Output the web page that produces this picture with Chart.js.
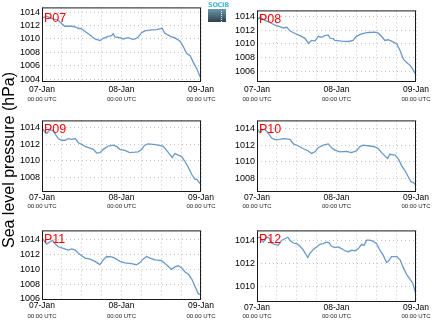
<!DOCTYPE html>
<html>
<head>
<meta charset="utf-8">
<script src="https://cdn.jsdelivr.net/npm/chart.js@4/dist/chart.umd.min.js"></script>
<style>
  body { margin: 0; background: #fff; width: 435px; height: 327px; position: relative; overflow: hidden;
         font-family: Arial, "Liberation Sans", Helvetica, sans-serif; }
  canvas { position: absolute; }
  #logo { position: absolute; left: 208px; top: 2px; width: 18px; z-index: 2; }
  #logo .txt { font: bold 6.5px "DejaVu Sans", sans-serif; color: #45b9cf; letter-spacing: -0.3px; line-height: 6px; }
  #logo .box { height: 13px; margin-top: 0.5px; background: linear-gradient(#6b9aa8, #2f3f4f); position: relative; }
  #logo .box:after { content: ""; position: absolute; left: 13px; top: 2px; height: 11px;
                     border-left: 1px dotted #e8f0f4; }
</style>
</head>
<body>
<div id="logo"><div class="txt">SOCIB</div><div class="box"></div></div>
<script>
// hours since 07-Jan 00:00 UTC, pressure in hPa
const p07 = [[0,1013.1],[1.4,1013.4],[3.4,1013.0],[4.9,1012.8],[5.9,1012.3],[6.9,1011.9],[9,1011.9],[10,1011.8],
  [11,1011.6],[12,1011.5],[13,1011.1],[14.5,1010.6],[16,1010.0],[17.5,1009.75],[18.5,1010.1],[20,1010.4],
  [21,1010.5],[21.5,1010.8],[22,1010.3],[23.5,1010.2],[24.5,1010.0],[26,1010.2],[27.6,1009.9],[29,1010.25],
  [30,1010.9],[31,1011.2],[33,1011.35],[34.6,1011.4],[36.3,1011.6],[37,1010.9],[38,1010.6],[39.1,1010.3],
  [40,1010.2],[41.7,1009.65],[42.6,1008.9],[43.7,1007.8],[44.7,1007.5],[45.7,1006.5],[46.7,1005.55],
  [47.7,1004.4],[48,1004.1]];
const p08 = [[0,1013.4],[0.9,1013.86],[2.4,1013.4],[3.9,1013.1],[5.4,1012.7],[6.9,1012.5],[7.9,1012.3],
  [9,1012.4],[10,1011.85],[11.5,1011.5],[13,1011.2],[14.5,1010.8],[15.5,1010.1],[16.5,1010.5],[17.5,1010.4],
  [18.5,1011.1],[19.5,1010.95],[20.5,1011.2],[21.5,1011.3],[22,1010.85],[23,1010.75],[23.5,1010.5],
  [25.5,1010.4],[27.6,1010.35],[29,1010.5],[30,1011.1],[31.6,1011.45],[33.6,1011.65],[35.6,1011.7],
  [36.6,1011.55],[37.6,1011.1],[38.6,1010.5],[39.6,1010.6],[40.6,1010.4],[42.2,1010.0],[43.2,1009.0],
  [44.2,1007.8],[45.2,1007.3],[46.2,1006.9],[47.2,1006.2],[48,1005.5]];
const p09 = [[0,1014.0],[0.9,1013.5],[1.4,1013.3],[2.4,1013.77],[3.2,1013.7],[3.9,1013.3],[4.9,1012.7],
  [5.9,1012.5],[6.9,1012.5],[7.9,1012.7],[9,1012.6],[10,1012.7],[11,1012.2],[12,1012.0],[13,1011.75],
  [14.5,1011.55],[15.5,1011.4],[16.5,1010.95],[17.5,1011.0],[18.5,1011.4],[20,1011.8],[21.5,1011.9],
  [22.5,1011.75],[23.5,1011.4],[25,1011.27],[26.5,1011.0],[28,1011.05],[29,1011.1],[30,1011.35],[31,1011.9],
  [32,1012.05],[33.6,1012.0],[35.1,1011.9],[36.6,1011.75],[37.6,1011.27],[38.6,1010.8],[39.3,1010.4],
  [40.1,1010.9],[41.1,1010.7],[42.2,1010.5],[43.2,1009.9],[44.2,1009.2],[45.2,1008.35],[46.2,1007.77],
  [46.7,1007.8],[47.7,1007.26]];
const p10 = [[0,1014.0],[0.9,1013.5],[1.7,1013.85],[2.4,1013.9],[3.4,1013.45],[4.4,1012.86],[5.4,1012.67],
  [6.9,1012.7],[7.9,1012.8],[9,1012.75],[10,1012.67],[11,1012.15],[12.5,1011.9],[14,1011.57],[15.5,1011.3],
  [16.5,1011.0],[17.5,1011.2],[18.5,1011.7],[20,1012.0],[21.5,1012.15],[22.5,1011.7],[23.5,1011.4],
  [25,1011.2],[27,1011.25],[28.5,1011.1],[30,1011.3],[31,1011.8],[32,1012.0],[34.1,1011.9],[35.6,1011.8],
  [36.6,1011.6],[37.6,1011.1],[38.6,1010.7],[39.4,1010.4],[40.1,1010.9],[41.7,1010.8],[42.7,1010.3],
  [43.7,1009.5],[44.7,1008.9],[45.7,1008.15],[46.5,1007.56],[47.2,1007.5],[47.7,1007.25]];
const p11 = [[0,1014.3],[0.9,1013.74],[1.4,1013.43],[2.4,1013.74],[3.2,1013.96],[3.9,1013.5],[4.9,1013.08],
  [6.4,1012.86],[7.9,1012.64],[9,1012.8],[10,1012.64],[11,1012.2],[12,1011.85],[13,1011.54],[14.5,1011.4],
  [16,1011.1],[17,1010.8],[17.5,1010.65],[18.5,1011.3],[19.5,1011.76],[21,1011.7],[22,1011.54],[23.5,1011.1],
  [25,1010.9],[27,1010.8],[28.5,1010.65],[29.5,1010.9],[30.5,1011.4],[31.6,1011.76],[32.6,1011.54],
  [34.1,1011.3],[36.1,1011.2],[37.1,1010.8],[38.1,1010.45],[39.1,1010.0],[40.1,1010.35],[41.1,1010.5],
  [42.2,1010.2],[43.2,1009.66],[44.2,1009.36],[45.2,1008.7],[46.2,1007.7],[47.2,1006.7],[48,1006.6]];
const p12 = [[0,1014.2],[0.9,1014.25],[1.9,1013.83],[2.9,1014.25],[3.6,1014.2],[4.4,1013.75],[5.4,1013.64],
  [6.4,1013.55],[7.4,1013.97],[8.4,1014.12],[9.3,1014.25],[10,1013.97],[11,1013.75],[12,1013.69],[13,1013.47],
  [14,1013.13],[14.7,1012.8],[15.3,1012.5],[16,1012.85],[17,1013.2],[18,1013.41],[19,1013.64],[20,1013.7],
  [21,1013.83],[21.8,1013.77],[22.5,1013.47],[23.5,1013.36],[24.5,1013.41],[25.5,1013.27],[26.5,1013.08],
  [27.6,1013.0],[28.6,1013.13],[29.6,1013.08],[30.6,1013.27],[31.6,1013.64],[32.3,1013.55],[33.1,1014.0],
  [34.1,1014.0],[35.1,1013.9],[36.1,1013.69],[37.1,1013.13],[38.1,1012.7],[39.1,1012.07],[39.6,1012.15],
  [40.6,1012.58],[42.2,1012.58],[43.2,1012.3],[44.2,1011.6],[45.2,1011.03],[46.2,1010.6],[47,1010.3],
  [47.7,1009.6],[48,1009.35]];

const ticks07 = [1004, 1006, 1008, 1010, 1012, 1014];
const ticks08 = [1006, 1008, 1010, 1012, 1014];
const ticks09 = [1008, 1010, 1012, 1014];
const ticks10 = [1008, 1010, 1012, 1014];
const ticks11 = [1006, 1008, 1010, 1012, 1014];
const ticks12 = [1010, 1012, 1014];

const gridHours = [0, 6, 12, 18, 24, 30, 36, 42, 48];
const dayHours = [0, 24, 48];
const dayLabels = ['07-Jan', '08-Jan', '09-Jan'];
const timeLabel = '00:00 UTC';
const yTitle = 'Sea level pressure (hPa)';

// one entry per station panel: plot box in page px, y limits, label offsets
const panels = [
  { name: 'P07', data: p07, ticks: ticks07, ymin: 1003.71, ymax: 1014.72, left: 42, top: 5, bottom: 81, nameY: 15, dateY: 8, utcY: 17.7 },
  { name: 'P08', data: p08, ticks: ticks08, ymin: 1004.64, ymax: 1014.84, left: 257, top: 8, bottom: 81, nameY: 12.7, dateY: 8, utcY: 17.7 },
  { name: 'P09', data: p09, ticks: ticks09, ymin: 1006.36, ymax: 1014.9, left: 42, top: 118, bottom: 191, nameY: 12.2, dateY: 5.5, utcY: 14.8 },
  { name: 'P10', data: p10, ticks: ticks10, ymin: 1006.45, ymax: 1015.0, left: 257, top: 118, bottom: 191, nameY: 12.7, dateY: 5.5, utcY: 14.8 },
  { name: 'P11', data: p11, ticks: ticks11, ymin: 1006.0, ymax: 1015.3, left: 42, top: 228, bottom: 299, nameY: 12.7, dateY: 6.3, utcY: 16.5 },
  { name: 'P12', data: p12, ticks: ticks12, ymin: 1008.74, ymax: 1014.84, left: 257, top: 228, bottom: 301, nameY: 12.2, dateY: 5.6, utcY: 15.1 },
];

const AXIS_W = 42, PLOT_W = 159, PAD_R = 15, PAD_T = 5, AXIS_H = 24;
const FONT = 'Arial, "Liberation Sans", sans-serif';

// shared y-axis title, rotated, left of the panels
const tc = document.createElement('canvas');
tc.width = 20; tc.height = 327;
tc.style.left = '0px'; tc.style.top = '0px';
document.body.appendChild(tc);
const tctx = tc.getContext('2d');
tctx.translate(14, 160);
tctx.rotate(-Math.PI / 2);
tctx.font = '16px ' + FONT;
tctx.fillStyle = '#000';
tctx.textAlign = 'center';
tctx.textBaseline = 'alphabetic';
tctx.fillText(yTitle, 0, 0);

const framePlugin = {
  id: 'frame',
  afterDatasetsDraw(chart, args, opts) {
    const { ctx, chartArea: a } = chart;
    ctx.save();
    ctx.strokeStyle = '#1a1a1a';
    ctx.lineWidth = 1;
    ctx.strokeRect(a.left + 0.5, a.top + 0.5, a.right - a.left - 1, a.bottom - a.top);
    // station name in the top-left corner
    ctx.fillStyle = '#ff0000';
    ctx.font = '12.5px ' + FONT;
    ctx.textBaseline = 'alphabetic';
    ctx.fillText(opts.name, a.left + 2, a.top + opts.nameY);
    // day labels under the x axis
    const xs = chart.scales.x;
    ctx.textAlign = 'center';
    dayHours.forEach((h, i) => {
      const px = xs.getPixelForValue(h);
      ctx.fillStyle = '#000';
      ctx.font = '8.5px ' + FONT;
      ctx.fillText(dayLabels[i], px, a.bottom + opts.dateY + 3);
      ctx.fillStyle = '#222';
      ctx.font = '6px ' + FONT;
      ctx.fillText(timeLabel, px, a.bottom + opts.utcY + 2.2);
    });
    ctx.restore();
  }
};

panels.forEach(p => {
  const cv = document.createElement('canvas');
  const h = PAD_T + (p.bottom - p.top) + AXIS_H;
  cv.width = AXIS_W + PLOT_W + PAD_R;
  cv.height = h;
  cv.style.left = (p.left - AXIS_W) + 'px';
  cv.style.top = (p.top - PAD_T) + 'px';
  document.body.appendChild(cv);

  new Chart(cv.getContext('2d'), {
    type: 'line',
    data: {
      datasets: [{
        data: p.data.map(([x, y]) => ({ x, y })),
        borderColor: '#6a98c9',
        borderWidth: 1.3,
        pointRadius: 0,
        tension: 0,
      }],
    },
    options: {
      responsive: false,
      animation: false,
      devicePixelRatio: 1,
      layout: { padding: { top: PAD_T, right: PAD_R, left: 0, bottom: 0 } },
      plugins: { legend: { display: false }, tooltip: { enabled: false }, frame: p },
      scales: {
        x: {
          type: 'linear', min: 0, max: 48,
          afterBuildTicks: s => { s.ticks = gridHours.map(v => ({ value: v })); },
          afterFit: s => { s.height = AXIS_H; },
          ticks: { display: false },
          grid: { color: '#c4c4c4', lineWidth: 1, drawTicks: false },
          border: { display: false, dash: [1, 3] },
        },
        y: {
          min: p.ymin, max: p.ymax,
          afterBuildTicks: s => { s.ticks = p.ticks.map(v => ({ value: v })); },
          afterFit: s => { s.width = AXIS_W; },
          ticks: { color: '#000', padding: 2, font: { family: FONT, size: 9 }, callback: v => String(v) },
          grid: { color: '#c4c4c4', lineWidth: 1, drawTicks: false },
          border: { display: false, dash: [1, 3] },
        },
      },
    },
    plugins: [framePlugin],
  });
});
</script>
</body>
</html>
